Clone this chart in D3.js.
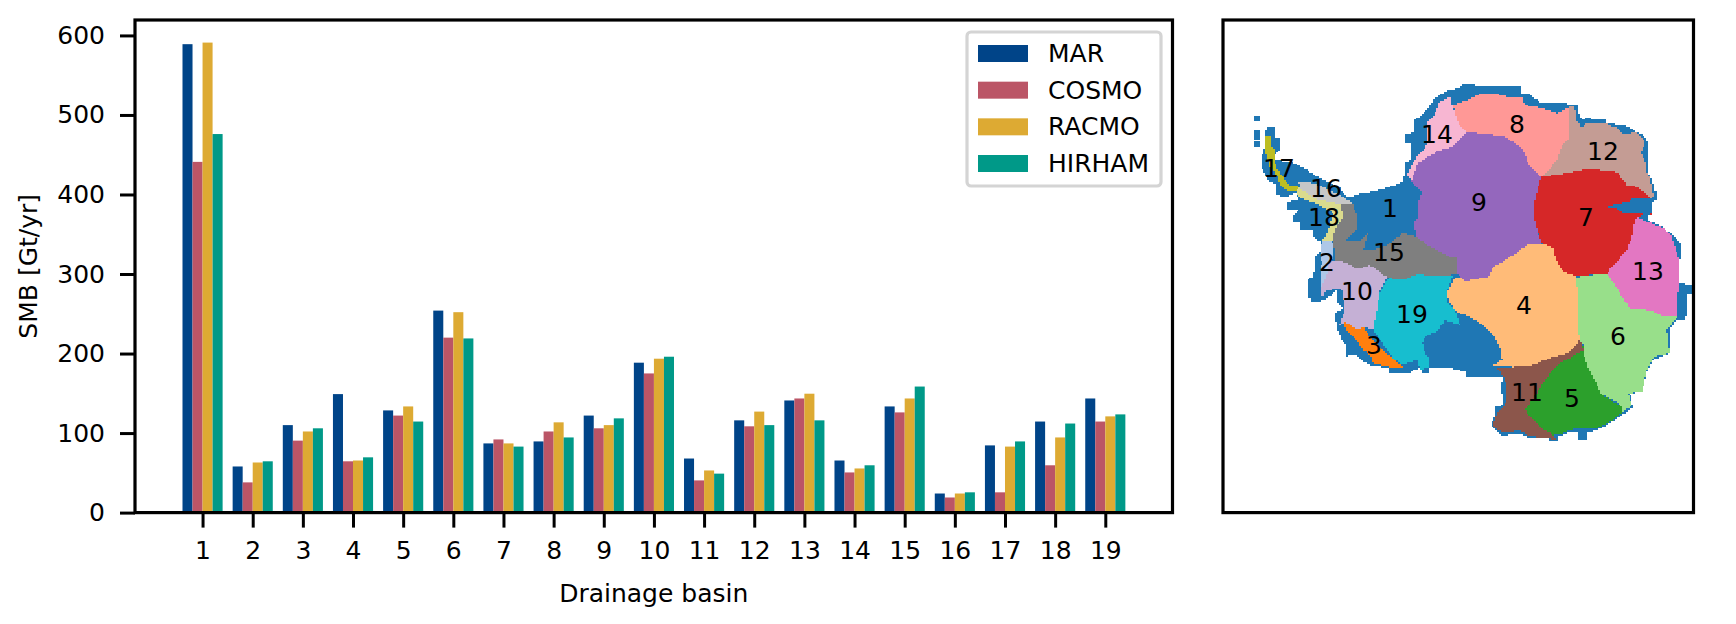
<!DOCTYPE html>
<html>
<head>
<meta charset="utf-8">
<script src="https://cdn.jsdelivr.net/npm/d3@7"></script>
<style>
  body { margin: 0; background: #fff; }
  text { font-family: "DejaVu Sans", sans-serif; fill: #000; }
</style>
</head>
<body>
<script>
// bar chart values, Gt/yr
var basins = [1,2,3,4,5,6,7,8,9,10,11,12,13,14,15,16,17,18,19];
var mar    = [589,58,110,149,128.5,254,87,89.5,122,188.5,68,116,141,65.5,133.5,24,84.5,114.5,143.5];
var cosmo  = [441,38,90.5,64.5,122,220,92,102,106,175,40.5,108.5,143.5,50.5,126,19,25.5,59.5,114.5];
var racmo  = [591,63,102,65.5,133.5,252,87,113.5,110,193.5,53,127,149.5,55.5,143.5,24,83,94.5,121];
var hirham = [476,64.5,106,69.5,114.5,219,83,94.5,118.5,196,49,110,116,59.5,158.5,25.5,89.5,112,123.5];
var models = ["MAR", "COSMO", "RACMO", "HIRHAM"];
var modelValues = [mar, cosmo, racmo, hirham];
var modelColors = ["#004488", "#BB5566", "#DDAA33", "#009988"];
var yTicks = [0,100,200,300,400,500,600];

// map outlines, in map units
var iceSheet = [[1268,126],[1275,126],[1275,138],[1280,138],[1280,150],[1275,155],[1275,160],[1292,162],[1307,170],[1323,180],[1340,188],[1343,193],[1350,198],[1358,194],[1370,192],[1387,188],[1400,183],[1404,180],[1405,162],[1410,160],[1410,143],[1406,143],[1406,135],[1415,132],[1415,120],[1427,110],[1435,98],[1448,90],[1460,88],[1463,84],[1475,84],[1475,87],[1503,87],[1522,87],[1522,93],[1528,93],[1537,100],[1542,103],[1578,104],[1578,112],[1583,120],[1587,118],[1605,120],[1605,123],[1625,125],[1637,132],[1647,138],[1648,173],[1652,180],[1654,192],[1657,192],[1657,200],[1652,202],[1650,213],[1647,220],[1663,227],[1672,235],[1682,245],[1682,260],[1678,260],[1678,283],[1692,285],[1693,293],[1687,295],[1687,310],[1685,319],[1677,320],[1670,328],[1670,353],[1660,357],[1653,360],[1647,372],[1642,392],[1630,393],[1633,407],[1625,413],[1610,423],[1597,430],[1588,433],[1588,439],[1578,439],[1578,433],[1567,433],[1558,437],[1558,442],[1548,442],[1548,438],[1528,438],[1520,433],[1503,436],[1492,427],[1492,422],[1495,417],[1495,407],[1503,405],[1503,395],[1500,392],[1500,387],[1503,378],[1498,377],[1466,377],[1466,372],[1450,368],[1446,368],[1430,367],[1430,373],[1422,373],[1420,368],[1412,370],[1411,373],[1389,373],[1388,368],[1370,365],[1363,362],[1357,355],[1347,356],[1347,345],[1342,340],[1338,331],[1336,320],[1336,312],[1343,308],[1338,303],[1338,290],[1324,300],[1311,302],[1311,298],[1307,298],[1307,279],[1313,278],[1315,268],[1315,257],[1320,252],[1320,242],[1313,237],[1313,230],[1301,230],[1301,223],[1293,223],[1293,217],[1298,210],[1288,210],[1288,202],[1298,200],[1297,192],[1286,197],[1276,195],[1276,185],[1268,180],[1262,168],[1262,155],[1265,147],[1268,137],[1265,135]];
var islet1 = [[1254,115],[1260,115],[1260,121],[1254,121]];
var islet2 = [[1254,130],[1260,130],[1260,139],[1254,139]];
var islet3 = [[1254,141],[1260,141],[1260,147],[1254,147]];
var inlet = [[1606,207],[1615,204],[1630,202],[1632,198],[1652,199],[1652,213],[1647,215],[1637,213],[1623,213],[1615,208]];
var basin2 = [[1322,240],[1333,242],[1334,258],[1328,263],[1327,273],[1325,280],[1320,290],[1320,270],[1322,263],[1320,257]];
var basin3 = [[1343,322],[1347,322],[1353,328],[1363,327],[1370,337],[1383,350],[1397,362],[1405,368],[1390,367],[1373,363],[1372,357],[1363,350],[1355,338],[1348,332]];
var basin4 = [[1528,244],[1543,244],[1553,248],[1557,262],[1563,272],[1577,276],[1578,327],[1580,340],[1568,353],[1550,358],[1533,365],[1513,367],[1493,365],[1502,360],[1500,347],[1495,338],[1483,325],[1472,318],[1457,312],[1450,303],[1447,293],[1455,278],[1460,277],[1467,282],[1470,280],[1488,277],[1493,267],[1502,262],[1518,252]];
var basin5 = [[1584,345],[1584,355],[1588,368],[1593,377],[1602,395],[1623,407],[1623,412],[1610,422],[1597,428],[1577,428],[1563,433],[1553,435],[1540,427],[1525,410],[1537,393],[1547,377],[1560,363],[1580,350]];
var basin6 = [[1577,277],[1607,273],[1610,277],[1623,298],[1630,309],[1650,310],[1663,316],[1677,317],[1667,330],[1668,340],[1670,353],[1653,357],[1647,370],[1642,392],[1628,393],[1632,405],[1623,412],[1618,402],[1602,395],[1593,377],[1588,368],[1584,355],[1584,345],[1580,340],[1578,327]];
var basin7 = [[1541,177],[1567,173],[1587,169],[1613,171],[1618,173],[1627,185],[1638,187],[1652,198],[1652,215],[1642,215],[1635,220],[1633,233],[1627,250],[1618,260],[1607,273],[1577,276],[1563,272],[1557,262],[1553,248],[1543,244],[1538,233],[1533,213],[1535,200]];
var basin8 = [[1453,105],[1467,100],[1483,93],[1493,93],[1508,97],[1522,98],[1525,105],[1540,108],[1557,113],[1569,107],[1575,107],[1569,118],[1569,138],[1562,145],[1557,160],[1550,168],[1541,177],[1530,167],[1522,148],[1510,140],[1502,136],[1467,132],[1458,123]];
var basin9 = [[1467,132],[1502,136],[1510,140],[1522,148],[1530,167],[1541,177],[1535,200],[1533,213],[1538,233],[1542,244],[1528,244],[1518,252],[1502,262],[1493,267],[1488,277],[1470,280],[1467,282],[1460,277],[1456,273],[1456,257],[1450,257],[1427,245],[1417,237],[1414,223],[1418,217],[1418,203],[1422,192],[1412,183],[1411,181],[1418,163],[1440,150],[1450,148]];
var basin10 = [[1335,260],[1347,263],[1357,269],[1370,265],[1387,277],[1380,292],[1378,303],[1373,330],[1365,327],[1357,329],[1345,322],[1339,325],[1345,310],[1342,290],[1337,288],[1325,292],[1322,298],[1320,290],[1325,280],[1327,273],[1328,263]];
var basin11 = [[1580,340],[1584,350],[1560,363],[1547,377],[1537,393],[1525,410],[1540,427],[1550,433],[1558,440],[1548,438],[1528,436],[1520,430],[1503,433],[1493,426],[1497,413],[1505,405],[1507,393],[1505,380],[1497,367],[1513,367],[1533,365],[1550,358],[1568,353]];
var basin12 = [[1569,107],[1575,107],[1577,120],[1582,128],[1587,123],[1605,123],[1617,128],[1625,135],[1635,132],[1645,140],[1643,150],[1640,152],[1645,160],[1647,173],[1650,177],[1652,193],[1655,197],[1650,198],[1638,187],[1627,185],[1618,173],[1613,171],[1587,169],[1567,173],[1541,177],[1550,168],[1557,160],[1562,145],[1569,138],[1569,118]];
var basin13 = [[1638,217],[1650,223],[1663,228],[1672,237],[1679,260],[1679,283],[1677,317],[1663,316],[1650,310],[1630,309],[1623,298],[1610,277],[1607,273],[1618,260],[1627,250],[1633,233],[1635,220]];
var basin14 = [[1450,97],[1440,102],[1433,117],[1427,123],[1427,145],[1413,162],[1407,175],[1411,181],[1418,163],[1440,150],[1450,148],[1467,132],[1458,123],[1453,108]];
var basin15 = [[1340,204],[1352,203],[1357,215],[1358,228],[1347,240],[1360,240],[1368,233],[1363,250],[1373,250],[1387,245],[1403,233],[1417,237],[1427,245],[1450,257],[1456,257],[1456,273],[1450,275],[1433,276],[1418,274],[1403,280],[1388,278],[1370,265],[1357,269],[1347,263],[1335,260],[1334,242],[1333,230],[1343,217]];
var basin16 = [[1299,182],[1313,183],[1323,187],[1340,195],[1352,203],[1340,204],[1315,199],[1300,189]];
var basin17 = [[1266,136],[1271,136],[1271,146],[1274,150],[1274,160],[1278,170],[1285,180],[1290,185],[1299,185],[1299,190],[1288,191],[1280,185],[1278,177],[1270,167],[1266,153]];
var basin18 = [[1296,190],[1300,188],[1315,199],[1340,204],[1343,217],[1335,230],[1333,241],[1322,241],[1328,232],[1330,223],[1333,213],[1323,207],[1312,202],[1298,197]];
var basin19 = [[1388,278],[1403,280],[1418,274],[1433,276],[1453,275],[1447,293],[1448,302],[1455,310],[1460,325],[1445,320],[1437,332],[1427,335],[1422,342],[1425,353],[1430,358],[1430,367],[1420,370],[1417,360],[1407,363],[1402,365],[1393,358],[1373,330],[1378,303],[1380,292]];
var labelX = [1390,1327,1374,1524,1572,1618,1586,1517,1479,1357,1527,1603,1648,1437,1389,1326,1279,1324,1412];
var labelY = [208,262,345,305,398,336,217,124,202,291,392,151,271,134,252,188,168,217,314];

var svgWidth = 1736;
var svgHeight = 624;
var margin = { top: 20, left: 135, bottom: 111.4 };
var width = 1172.5 - margin.left;
var height = svgHeight - margin.top - margin.bottom;
var fontSize = 25;

var svg = d3.select("body").append("svg")
  .attr("width", svgWidth)
  .attr("height", svgHeight)
  .style("display", "block");

// ---- bars ----
var chartGroup = svg.append("g")
  .attr("transform", `translate(${margin.left}, ${margin.top})`);

var x = d3.scaleLinear().domain([-0.347, 20.34]).range([0, width]);
var y = d3.scaleLinear().domain([0, 619.4]).range([height, 0]);
var barWidth = 0.2;

models.forEach(function(m, i) {
  chartGroup.append("g")
    .selectAll("rect")
    .data(modelValues[i])
    .enter()
    .append("rect")
    .attr("x", (d, j) => x(basins[j] + (i - 2) * barWidth))
    .attr("width", x(barWidth) - x(0))
    .attr("y", d => y(d))
    .attr("height", d => y(0) - y(d))
    .attr("fill", modelColors[i]);
});

var xAxis = d3.axisBottom(x).tickValues(basins).tickFormat(d3.format("d")).tickSize(15).tickPadding(14);
var yAxis = d3.axisLeft(y).tickValues(yTicks).tickSize(15).tickPadding(15);

var gx = chartGroup.append("g").attr("transform", `translate(0, ${height})`).call(xAxis);
var gy = chartGroup.append("g").call(yAxis);
[gx, gy].forEach(function(g) {
  g.select(".domain").remove();
  g.selectAll("line").attr("stroke", "#000").attr("stroke-width", 3);
  g.selectAll("text").attr("font-size", fontSize).style("font-family", '"DejaVu Sans"');
});

chartGroup.append("rect")
  .attr("width", width)
  .attr("height", height)
  .attr("fill", "none")
  .attr("stroke", "#000")
  .attr("stroke-width", 3.2);

chartGroup.append("text")
  .attr("x", width / 2)
  .attr("y", 593 - margin.top)
  .attr("text-anchor", "middle")
  .attr("dominant-baseline", "central")
  .attr("font-size", fontSize)
  .text("Drainage basin");

chartGroup.append("text")
  .attr("transform", `translate(${28 - margin.left}, ${height / 2}) rotate(-90)`)
  .attr("text-anchor", "middle")
  .attr("dominant-baseline", "central")
  .attr("font-size", fontSize)
  .text("SMB [Gt/yr]");

// legend
var legendY = d3.scalePoint().domain(models).range([33.5, 143.5]);
var legend = chartGroup.append("g");
legend.append("rect")
  .attr("x", 967 - margin.left)
  .attr("y", 32 - margin.top)
  .attr("width", 194)
  .attr("height", 154)
  .attr("rx", 4)
  .attr("fill", "#fff")
  .attr("stroke", "#d4d4d4")
  .attr("stroke-width", 3.2);
models.forEach(function(m, i) {
  legend.append("rect")
    .attr("x", 978 - margin.left)
    .attr("y", legendY(m) - 8.5)
    .attr("width", 50)
    .attr("height", 17)
    .attr("fill", modelColors[i]);
  legend.append("text")
    .attr("x", 1048 - margin.left)
    .attr("y", legendY(m))
    .attr("dominant-baseline", "central")
    .attr("font-size", fontSize)
    .text(m);
});

// ---- map ----
var mapLeft = 1223;
var mapRight = 1693.5;
var mapGroup = svg.append("g")
  .attr("transform", `translate(${mapLeft}, ${margin.top})`);

var mapX = d3.scaleLinear().domain([mapLeft, mapRight]).range([0, mapRight - mapLeft]);
var mapY = d3.scaleLinear().domain([margin.top, margin.top + height]).range([0, height]);

var shapes = [
  { outline: iceSheet, color: "#1f77b4" },
  { outline: islet1, color: "#1f77b4" },
  { outline: islet2, color: "#1f77b4" },
  { outline: islet3, color: "#1f77b4" },
  { outline: basin2, color: "#aec7e8" },
  { outline: basin3, color: "#ff7f0e" },
  { outline: basin4, color: "#ffbb78" },
  { outline: basin6, color: "#98df8a" },
  { outline: basin5, color: "#2ca02c" },
  { outline: basin7, color: "#d62728" },
  { outline: basin8, color: "#ff9896" },
  { outline: basin14, color: "#f7b6d2" },
  { outline: basin12, color: "#c49c94" },
  { outline: basin9, color: "#9467bd" },
  { outline: basin10, color: "#c5b0d5" },
  { outline: basin11, color: "#8c564b" },
  { outline: basin13, color: "#e377c2" },
  { outline: basin15, color: "#7f7f7f" },
  { outline: basin16, color: "#c7c7c7" },
  { outline: basin18, color: "#dbdb8d" },
  { outline: basin17, color: "#bcbd22" },
  { outline: basin19, color: "#17becf" },
  { outline: inlet, color: "#1f77b4" }
];

// the source is a raster, so fill each outline cell by cell to keep the blocky edge
var cell = 1.84;
shapes.forEach(function(shape) {
  var xs = shape.outline.map(p => p[0]);
  var ys = shape.outline.map(p => p[1]);
  var x0 = Math.floor((d3.min(xs) - mapLeft) / cell);
  var x1 = Math.ceil((d3.max(xs) - mapLeft) / cell);
  var y0 = Math.floor((d3.min(ys) - margin.top) / cell);
  var y1 = Math.ceil((d3.max(ys) - margin.top) / cell);
  var path = d3.path();
  for (var r = y0; r <= y1; r++) {
    var start = null;
    for (var c = x0; c <= x1 + 1; c++) {
      var inside = d3.polygonContains(shape.outline, [mapLeft + (c + 0.5) * cell, margin.top + (r + 0.5) * cell]);
      if (inside && start === null) start = c;
      if (!inside && start !== null) {
        path.rect(mapX(mapLeft + start * cell), mapY(margin.top + r * cell), (c - start) * cell, cell);
        start = null;
      }
    }
  }
  mapGroup.append("path")
    .attr("d", path.toString())
    .attr("fill", shape.color)
    .attr("shape-rendering", "crispEdges");
});

mapGroup.selectAll("text.basin")
  .data(basins)
  .enter()
  .append("text")
  .attr("class", "basin")
  .attr("x", (d, i) => mapX(labelX[i]))
  .attr("y", (d, i) => mapY(labelY[i]))
  .attr("text-anchor", "middle")
  .attr("dominant-baseline", "central")
  .attr("font-size", fontSize)
  .text(d => d);

mapGroup.append("rect")
  .attr("width", mapRight - mapLeft)
  .attr("height", height)
  .attr("fill", "none")
  .attr("stroke", "#000")
  .attr("stroke-width", 3.2);
</script>
</body>
</html>
